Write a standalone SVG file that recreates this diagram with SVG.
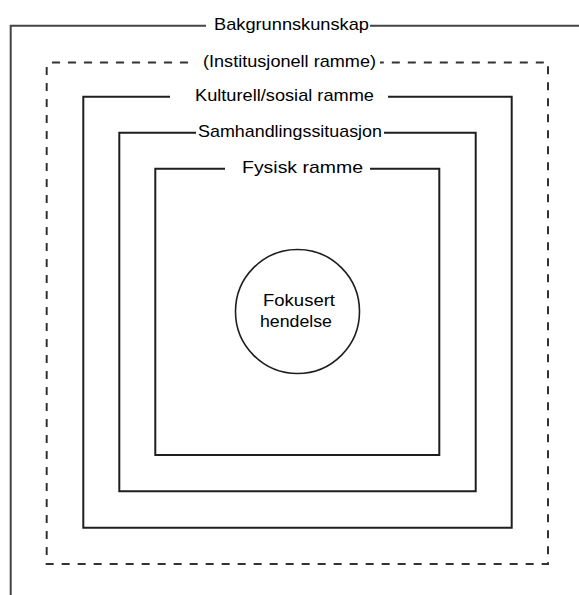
<svg xmlns="http://www.w3.org/2000/svg" width="579" height="595" viewBox="0 0 579 595">
  <style>
    .frame { fill: none; stroke: #1e1e1e; stroke-width: 2; stroke-linecap: butt; }
    .thin { fill: none; stroke: #1e1e1e; stroke-width: 1.6; }
    .outer { fill: none; stroke: #444; stroke-width: 2; }
    .dash { fill: none; stroke: #333; stroke-width: 2; stroke-dasharray: 8 8; }
    .lbl { font-family: "Liberation Sans", Arial, sans-serif; font-size: 17px; fill: #000; }
  </style>
  <rect width="579" height="595" fill="#fff"/>

  <g id="bakgrunnskunskap">
    <path class="outer" d="M206,25.7 H10.7 V595 M370,25.7 H579"/>
    <text class="lbl" x="214" y="29.5" textLength="155" lengthAdjust="spacingAndGlyphs">Bakgrunnskunskap</text>
  </g>

  <g id="institusjonell-ramme">
    <path class="dash" d="M188,62.5 H52"/>
    <path class="dash" d="M46.7,67 V564 H548 V62.5 H380"/>
    <text class="lbl" x="203" y="67" textLength="173" lengthAdjust="spacingAndGlyphs">(Institusjonell ramme)</text>
  </g>

  <g id="kulturell-sosial-ramme">
    <path class="frame" d="M170,96.7 H83.3 V527.7 H511.7 V96.7 H388"/>
    <text class="lbl" x="195" y="100.7" textLength="179" lengthAdjust="spacingAndGlyphs">Kulturell/sosial ramme</text>
  </g>

  <g id="samhandlingssituasjon">
    <path class="frame" d="M196,132.7 H119.3 V491.3 H475.7 V132.7 H384"/>
    <text class="lbl" x="198" y="136.7" textLength="184" lengthAdjust="spacingAndGlyphs">Samhandlingssituasjon</text>
  </g>

  <g id="fysisk-ramme">
    <path class="frame" d="M225,168.7 H155.3 V455 H439.3 V168.7 H370"/>
    <text class="lbl" x="242" y="172.7" textLength="121" lengthAdjust="spacingAndGlyphs">Fysisk ramme</text>
  </g>

  <g id="fokusert-hendelse">
    <circle class="thin" cx="297.5" cy="311.5" r="62"/>
    <text class="lbl" x="263" y="306" textLength="72" lengthAdjust="spacingAndGlyphs">Fokusert</text>
    <text class="lbl" x="260" y="327" textLength="72" lengthAdjust="spacingAndGlyphs">hendelse</text>
  </g>
</svg>
